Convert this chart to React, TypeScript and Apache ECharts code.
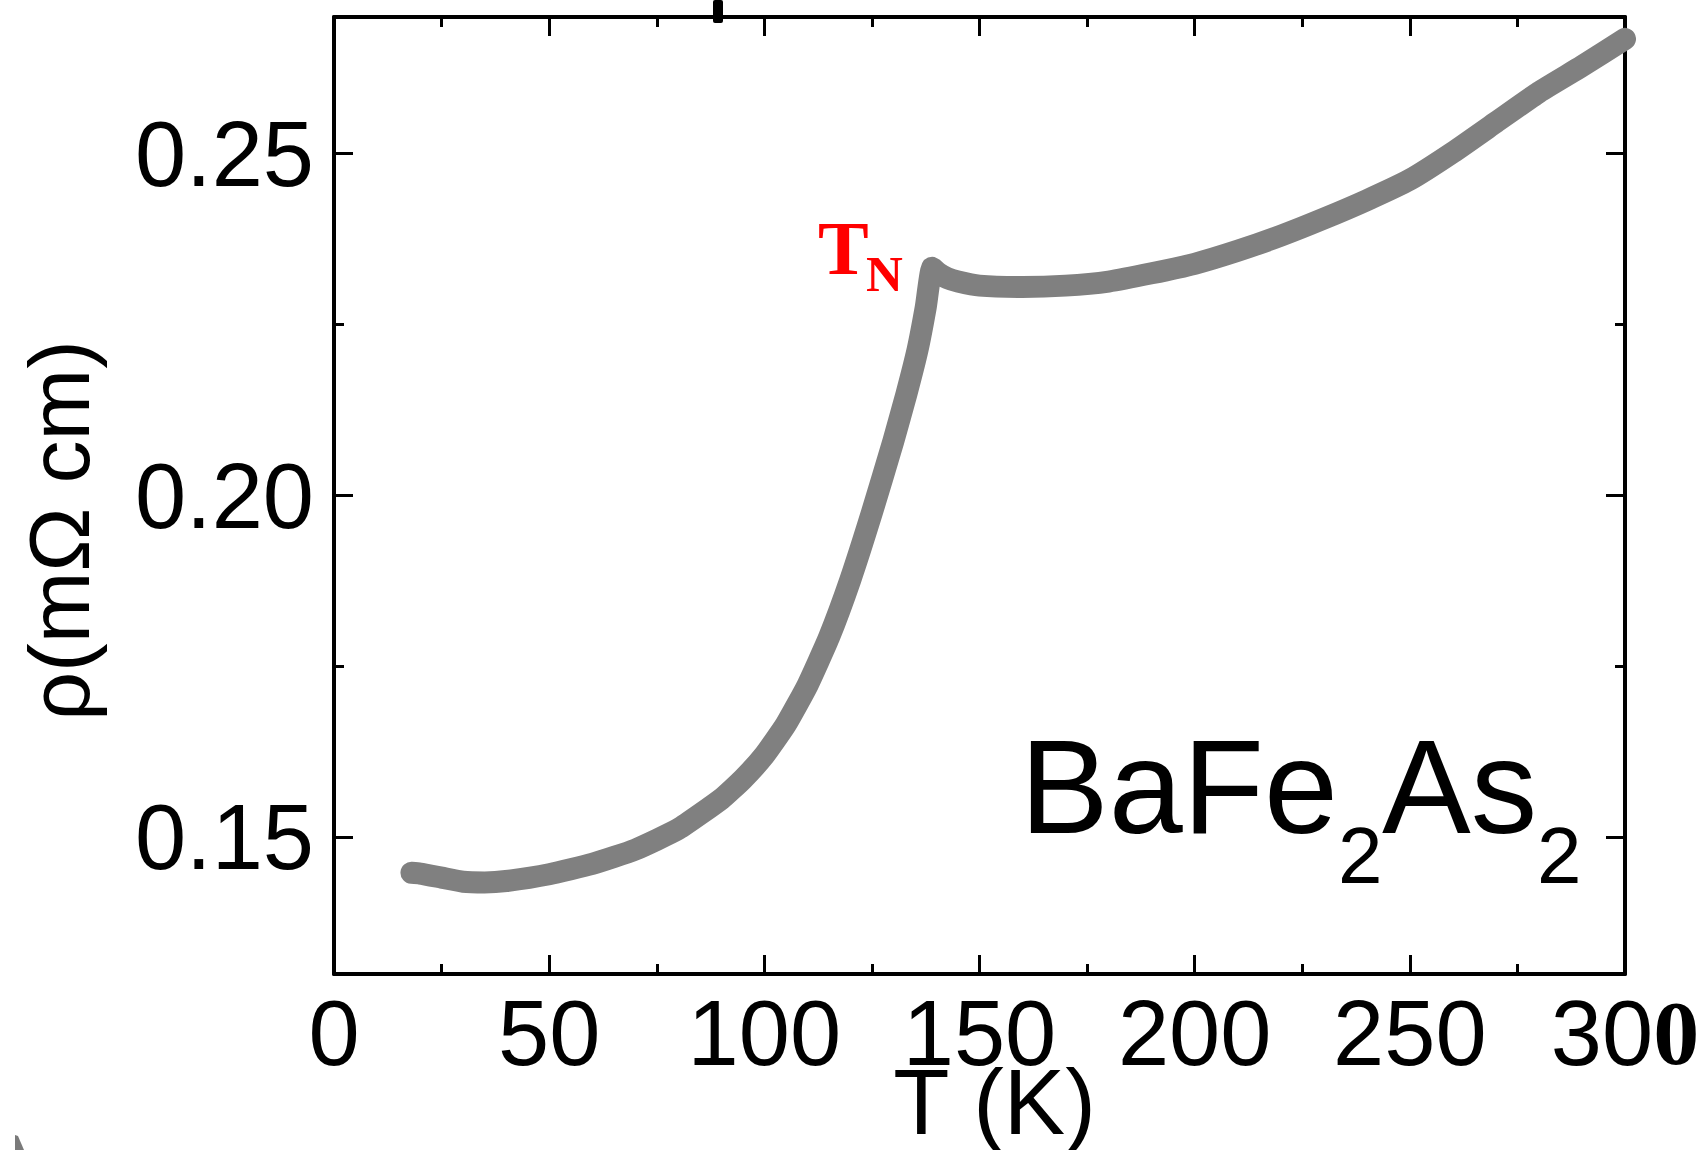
import React, { useEffect, useRef } from "react";
import * as echarts from "echarts";

// Temperature (K) and resistivity (mΩ cm)
const temperature = [18, 20, 25, 30, 35, 40, 50, 60, 70, 80, 90, 95, 100, 105, 110, 115, 120, 125, 130, 133, 135.6, 137.5, 139, 140.5, 142.5, 145, 150, 160, 170, 180, 190, 200, 210, 220, 230, 240, 250, 260, 270, 280, 290, 300];
const resistivity = [0.1448, 0.1447, 0.1441, 0.1435, 0.1434, 0.1436, 0.1446, 0.1461, 0.1482, 0.1512, 0.1556, 0.1585, 0.1620, 0.1665, 0.1722, 0.1792, 0.1877, 0.1975, 0.2080, 0.2148, 0.2213, 0.2275, 0.2333, 0.2325, 0.2318, 0.2313, 0.2307, 0.2305, 0.2307, 0.2313, 0.2325, 0.2339, 0.2358, 0.2380, 0.2405, 0.2432, 0.2462, 0.2502, 0.2546, 0.2590, 0.2628, 0.2668];

const xTickLabels = [0, 50, 100, 150, 200, 250, 300];
const yMajorTicks = [0.15, 0.2, 0.25];
const yMinorTicks = [0.175, 0.225];

const FONT = "Liberation Sans";
const SERIF = "Liberation Serif";

export default function App() {
  const ref = useRef<HTMLDivElement>(null);

  useEffect(() => {
    if (!ref.current) return;
    const chart = echarts.init(ref.current, null, { renderer: "svg" });
    const axisLine = { show: true, lineStyle: { color: "#000", width: 4 } };
    const tickStyle = { color: "#000", width: 3 };

    const xBase = {
      type: "value" as const,
      min: xTickLabels[0],
      max: xTickLabels[xTickLabels.length - 1],
      interval: 50,
      axisLine,
      axisTick: { show: true, inside: true, length: 19, lineStyle: tickStyle },
      minorTick: { show: true, splitNumber: 2, length: 10, lineStyle: tickStyle },
      splitLine: { show: false },
    };

    chart.setOption({
      animation: false,
      backgroundColor: "#fff",
      grid: { left: 334, right: 77, top: 17, bottom: 176, containLabel: false, outerBoundsMode: "none" },
      xAxis: [
        {
          ...xBase,
          position: "bottom",
          axisLabel: {
            show: true,
            fontSize: 92,
            fontFamily: FONT,
            color: "#000",
            margin: 13,
            formatter: (v: number) => (v === 300 ? "30{b|0}" : String(v)),
            rich: {
              b: { fontFamily: SERIF, fontWeight: "bold", fontSize: 92, color: "#000" },
            },
          },
          name: "T (K)",
          nameLocation: "middle",
          nameGap: 82,
          nameMoveOverlap: false,
          nameTextStyle: { fontSize: 92, fontFamily: FONT, color: "#000", padding: [0, 0, 0, 30] },
        },
        {
          ...xBase,
          position: "top",
          axisLabel: { show: false },
        },
      ],
      yAxis: [
        {
          type: "value",
          min: 0.13,
          max: 0.27,
          position: "left",
          axisLine,
          axisTick: { show: true, inside: true, length: 19, lineStyle: tickStyle, customValues: yMajorTicks },
          axisLabel: {
            show: true,
            customValues: yMajorTicks,
            formatter: (v: number) => v.toFixed(2),
            fontSize: 92,
            fontFamily: FONT,
            color: "#000",
            margin: 20,
          },
          splitLine: { show: false },
          name: "ρ(mΩ cm)",
          nameLocation: "middle",
          nameGap: 232,
          nameRotate: 90,
          nameMoveOverlap: false,
          nameTextStyle: { fontSize: 86, fontFamily: FONT, color: "#000", padding: [0, 70, 0, 0] },
        },
        {
          type: "value",
          min: 0.13,
          max: 0.27,
          position: "left",
          axisLine: { show: false },
          axisTick: { show: true, inside: true, length: 10, lineStyle: tickStyle, customValues: yMinorTicks },
          axisLabel: { show: false },
          splitLine: { show: false },
        },
        {
          type: "value",
          min: 0.13,
          max: 0.27,
          position: "right",
          axisLine,
          axisTick: { show: true, inside: true, length: 19, lineStyle: tickStyle, customValues: yMajorTicks },
          axisLabel: { show: false },
          splitLine: { show: false },
        },
        {
          type: "value",
          min: 0.13,
          max: 0.27,
          position: "right",
          axisLine: { show: false },
          axisTick: { show: true, inside: true, length: 10, lineStyle: tickStyle, customValues: yMinorTicks },
          axisLabel: { show: false },
          splitLine: { show: false },
        },
      ],
      series: [
        {
          type: "line",
          xAxisIndex: 0,
          yAxisIndex: 0,
          data: temperature.map((t, i) => [t, resistivity[i]]),
          showSymbol: false,
          smooth: 0.15,
          lineStyle: { color: "#808080", width: 22, cap: "round", join: "round" },
          clip: false,
        },
      ],
      graphic: [
        {
          type: "text",
          x: 818,
          y: 248,
          style: { text: "T", font: `bold 76px "${SERIF}"`, fill: "#ff0000", align: "left", textAlign: "left", verticalAlign: "middle", textVerticalAlign: "middle" },
        },
        {
          type: "text",
          x: 866,
          y: 274,
          style: { text: "N", font: `bold 51px "${SERIF}"`, fill: "#ff0000", align: "left", textAlign: "left", verticalAlign: "middle", textVerticalAlign: "middle" },
        },
        {
          type: "text",
          x: 1020,
          y: 787,
          style: { text: "BaFe", font: `133px "${FONT}"`, fill: "#000", align: "left", textAlign: "left", verticalAlign: "middle", textVerticalAlign: "middle" },
        },
        {
          type: "text",
          x: 1338,
          y: 855,
          style: { text: "2", font: `80px "${FONT}"`, fill: "#000", align: "left", textAlign: "left", verticalAlign: "middle", textVerticalAlign: "middle" },
        },
        {
          type: "text",
          x: 1382,
          y: 787,
          style: { text: "As", font: `133px "${FONT}"`, fill: "#000", align: "left", textAlign: "left", verticalAlign: "middle", textVerticalAlign: "middle" },
        },
        {
          type: "text",
          x: 1537,
          y: 855,
          style: { text: "2", font: `80px "${FONT}"`, fill: "#000", align: "left", textAlign: "left", verticalAlign: "middle", textVerticalAlign: "middle" },
        },
        {
          type: "rect",
          shape: { x: 713, y: 0, width: 10, height: 23, r: 2 },
          style: { fill: "#000" },
        },
        {
          type: "polygon",
          shape: { points: [[15, 1135], [18, 1136], [24, 1150], [15, 1150]] },
          style: { fill: "#7a7a7a" },
        },
      ],
    });
    return () => chart.dispose();
  }, []);

  return (
    <div
      ref={ref}
      style={{ position: "absolute", left: 0, top: 0, width: 1702, height: 1150, background: "#fff" }}
    />
  );
}
